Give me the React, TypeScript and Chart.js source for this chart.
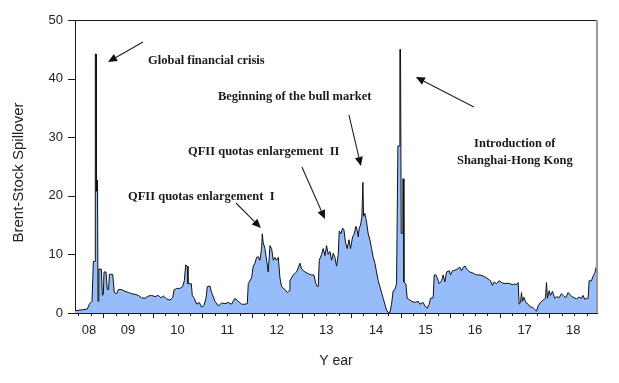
import React, { useEffect, useRef } from "react";
import { Chart, registerables } from "chart.js";

Chart.register(...registerables);

// ---- data (decimal years, spillover index) ----
const dates = [
  2008.431, 2008.532, 2008.633, 2008.680, 2008.720, 2008.774, 2008.801, 2008.835,
  2008.841, 2008.855, 2008.862, 2008.875, 2008.882, 2008.888, 2008.895, 2008.909,
  2008.915, 2008.962, 2008.983, 2009.003, 2009.016, 2009.056, 2009.083, 2009.110,
  2009.124, 2009.191, 2009.224, 2009.272, 2009.305, 2009.372, 2009.440, 2009.507,
  2009.574, 2009.641, 2009.708, 2009.776, 2009.843, 2009.910, 2009.977, 2010.044,
  2010.112, 2010.165, 2010.212, 2010.280, 2010.347, 2010.401, 2010.427, 2010.481,
  2010.548, 2010.602, 2010.636, 2010.663, 2010.696, 2010.710, 2010.777, 2010.797,
  2010.837, 2010.884, 2010.938, 2010.985, 2011.032, 2011.073, 2011.099, 2011.153,
  2011.187, 2011.254, 2011.321, 2011.388, 2011.456, 2011.523, 2011.590, 2011.657,
  2011.724, 2011.792, 2011.859, 2011.906, 2011.926, 2011.993, 2012.027, 2012.061,
  2012.094, 2012.128, 2012.161, 2012.195, 2012.208, 2012.228, 2012.262, 2012.296,
  2012.329, 2012.363, 2012.397, 2012.430, 2012.464, 2012.497, 2012.531, 2012.565,
  2012.598, 2012.665, 2012.712, 2012.753, 2012.766, 2012.833, 2012.901, 2012.968,
  2013.001, 2013.069, 2013.136, 2013.203, 2013.250, 2013.290, 2013.317, 2013.337,
  2013.358, 2013.405, 2013.438, 2013.472, 2013.505, 2013.539, 2013.573, 2013.606,
  2013.640, 2013.673, 2013.707, 2013.741, 2013.761, 2013.794, 2013.828, 2013.855,
  2013.888, 2013.922, 2013.956, 2013.989, 2014.030, 2014.063, 2014.097, 2014.124,
  2014.144, 2014.164, 2014.191, 2014.218, 2014.238, 2014.251, 2014.278, 2014.312,
  2014.345, 2014.379, 2014.413, 2014.446, 2014.480, 2014.513, 2014.547, 2014.581,
  2014.614, 2014.648, 2014.681, 2014.715, 2014.749, 2014.782, 2014.816, 2014.849,
  2014.883, 2014.917, 2014.944, 2014.977, 2014.984, 2014.997, 2015.011, 2015.038,
  2015.044, 2015.058, 2015.065, 2015.105, 2015.132, 2015.172, 2015.219, 2015.286,
  2015.354, 2015.387, 2015.454, 2015.488, 2015.535, 2015.575, 2015.602, 2015.656,
  2015.676, 2015.710, 2015.737, 2015.777, 2015.824, 2015.858, 2015.891, 2015.925,
  2015.978, 2016.005, 2016.046, 2016.093, 2016.140, 2016.194, 2016.227, 2016.261,
  2016.301, 2016.328, 2016.395, 2016.462, 2016.530, 2016.597, 2016.664, 2016.731,
  2016.765, 2016.812, 2016.852, 2016.886, 2016.933, 2016.987, 2017.034, 2017.101,
  2017.148, 2017.202, 2017.269, 2017.302, 2017.336, 2017.370, 2017.390, 2017.417,
  2017.437, 2017.457, 2017.484, 2017.524, 2017.571, 2017.618, 2017.659, 2017.706,
  2017.739, 2017.773, 2017.820, 2017.874, 2017.921, 2017.941, 2017.961, 2017.995,
  2018.022, 2018.062, 2018.109, 2018.156, 2018.196, 2018.243, 2018.277, 2018.331,
  2018.378, 2018.425, 2018.478, 2018.546, 2018.599, 2018.647, 2018.680, 2018.714,
  2018.747, 2018.781, 2018.801, 2018.848, 2018.882, 2018.915, 2018.949, 2018.960,
];

const spillover = [
  0.4, 0.5, 0.6, 0.7, 1.5, 2.0, 8.8, 8.8,
  44.2, 44.2, 20.8, 20.8, 22.7, 22.7, 2.0, 2.0,
  7.5, 7.5, 3.0, 3.2, 7.0, 7.0, 4.0, 4.0,
  6.6, 6.6, 3.5, 3.3, 4.0, 4.0, 3.7, 3.5,
  3.3, 3.2, 3.0, 2.6, 2.5, 2.9, 3.0, 2.8,
  3.0, 2.6, 2.9, 2.4, 2.2, 2.6, 3.9, 4.2,
  4.2, 4.5, 5.5, 8.2, 8.0, 5.0, 5.0, 3.0,
  2.5, 1.5, 1.8, 1.0, 1.3, 2.5, 4.5, 4.6,
  3.5, 2.0, 1.2, 1.7, 1.6, 1.8, 1.5, 2.5,
  2.0, 1.5, 1.5, 1.6, 5.0, 6.0, 8.0, 8.5,
  9.5, 9.6, 9.0, 11.0, 13.5, 12.0, 11.0, 9.0,
  7.0, 11.5, 11.0, 9.0, 9.5, 9.0, 9.5, 6.0,
  4.5, 4.0, 3.5, 3.8, 5.5, 6.5, 7.0, 8.5,
  7.5, 7.0, 6.7, 6.5, 6.5, 5.0, 4.5, 4.5,
  9.0, 10.0, 11.0, 9.8, 11.5, 10.0, 10.5, 9.0,
  10.2, 9.5, 8.0, 10.0, 14.0, 13.5, 14.5, 14.2,
  12.0, 11.0, 12.5, 11.0, 13.0, 13.5, 14.8, 14.0,
  13.0, 14.5, 15.0, 16.5, 22.3, 16.5, 17.0, 15.5,
  13.5, 12.5, 11.0, 9.5, 8.5, 7.0, 5.5, 4.5,
  3.5, 2.5, 1.5, 0.5, 0.1, 0.1, 1.5, 3.8,
  4.0, 5.0, 28.5, 28.5, 45.0, 45.0, 13.6, 13.6,
  22.9, 22.9, 5.3, 5.0, 2.5, 2.3, 2.0, 1.8,
  2.0, 1.5, 1.8, 1.2, 0.8, 1.5, 2.5, 2.6,
  6.5, 6.5, 6.0, 5.0, 5.5, 6.5, 5.3, 7.0,
  7.2, 6.5, 7.2, 7.3, 7.5, 7.8, 7.2, 7.8,
  8.0, 7.5, 7.0, 6.8, 6.5, 6.5, 6.3, 6.0,
  5.8, 5.5, 4.7, 5.3, 5.0, 5.5, 5.2, 5.0,
  5.1, 5.0, 4.8, 5.0, 4.8, 5.2, 1.5, 1.8,
  3.5, 2.0, 2.7, 1.8, 1.5, 1.0, 1.0, 0.6,
  0.3, 1.2, 1.8, 2.2, 2.5, 5.2, 2.5, 3.8,
  3.0, 3.7, 2.5, 2.8, 2.6, 3.3, 3.0, 2.6,
  3.5, 3.0, 2.7, 2.4, 2.7, 2.5, 3.0, 2.3,
  2.5, 2.5, 5.5, 5.5, 6.3, 6.8, 8.0, 8.2,
];

const labelYears = [2008, 2009, 2010, 2011, 2012, 2013, 2014, 2015, 2016, 2017, 2018];
const yTickValues = [0, 10, 20, 30, 40, 50];

const annotationTexts = [
  { text: "Global financial crisis", x: 2009.903, y: 43.0, align: "left" },
  { text: "Beginning of the bull market", x: 2011.315, y: 36.86, align: "left" },
  { text: "QFII quotas enlargement  II", x: 2010.71, y: 27.47, align: "left" },
  { text: "QFII quotas enlargement  I", x: 2009.5, y: 19.8, align: "left" },
  { text: "Introduction of", x: 2017.302, y: 28.84, align: "center" },
  { text: "Shanghai-Hong Kong", x: 2017.302, y: 25.94, align: "center" },
];

const arrows = [
  { x1: 2009.802, y1: 46.25, x2: 2009.097, y2: 42.83 },
  { x1: 2013.956, y1: 33.79, x2: 2014.198, y2: 25.09 },
  { x1: 2013.008, y1: 24.91, x2: 2013.472, y2: 16.04 },
  { x1: 2011.677, y1: 18.77, x2: 2012.181, y2: 14.51 },
  { x1: 2016.476, y1: 35.15, x2: 2015.306, y2: 40.27 },
];

const X_MIN = 2008.431;
const X_MAX = 2018.96;

const decorPlugin = {
  id: "decor",
  afterDraw(chart: any) {
    const { ctx, chartArea: a, scales } = chart;
    const xs = scales.x;
    const ys = scales.y;
    ctx.save();

    // frame top & right
    ctx.strokeStyle = "#1a1a1a";
    ctx.lineWidth = 1;
    ctx.beginPath();
    ctx.moveTo(a.left, Math.round(a.top) + 0.5);
    ctx.lineTo(a.right, Math.round(a.top) + 0.5);
    ctx.stroke();
    ctx.strokeStyle = "#9a9a9a";
    ctx.lineWidth = 2;
    ctx.beginPath();
    ctx.moveTo(a.right, a.top);
    ctx.lineTo(a.right, a.bottom);
    ctx.stroke();

    // y tick marks
    ctx.strokeStyle = "#1a1a1a";
    ctx.lineWidth = 1;
    yTickValues.forEach((v) => {
      const y = Math.round(ys.getPixelForValue(v)) + 0.5;
      ctx.beginPath();
      ctx.moveTo(a.left - 7, y);
      ctx.lineTo(a.left, y);
      ctx.stroke();
    });

    // x tick marks: quarterly, long at year boundaries
    for (let k = 0; k <= 48; k++) {
      const v = 2008 + k / 4;
      if (v < X_MIN || v > X_MAX) continue;
      const x = Math.round(xs.getPixelForValue(v)) + 0.5;
      const len = k % 4 === 0 ? 5 : 3;
      ctx.beginPath();
      ctx.moveTo(x, a.bottom);
      ctx.lineTo(x, a.bottom + len);
      ctx.stroke();
    }

    // axis titles
    ctx.fillStyle = "#222";
    ctx.font = '15px "Liberation Sans", Arial, sans-serif';
    ctx.textAlign = "center";
    ctx.textBaseline = "middle";
    ctx.save();
    ctx.translate(19, (a.top + a.bottom) / 2 + 6);
    ctx.rotate(-Math.PI / 2);
    ctx.fillText("Brent-Stock Spillover", 0, 0);
    ctx.restore();
    ctx.font = '14px "Liberation Sans", Arial, sans-serif';
    ctx.fillText("Y ear", (a.left + a.right) / 2, 361);

    // annotation texts
    ctx.fillStyle = "#1a1a1a";
    ctx.font = 'bold 12.5px "Liberation Serif", "Times New Roman", serif';
    annotationTexts.forEach((t) => {
      ctx.textAlign = t.align as CanvasTextAlign;
      ctx.fillText(t.text, xs.getPixelForValue(t.x), ys.getPixelForValue(t.y));
    });

    // arrows
    ctx.strokeStyle = "#222";
    ctx.fillStyle = "#111";
    ctx.lineWidth = 1.1;
    arrows.forEach((ar) => {
      const x1 = xs.getPixelForValue(ar.x1);
      const y1 = ys.getPixelForValue(ar.y1);
      const x2 = xs.getPixelForValue(ar.x2);
      const y2 = ys.getPixelForValue(ar.y2);
      const ang = Math.atan2(y2 - y1, x2 - x1);
      const hl = 9;
      const hw = 4;
      const bx = x2 - hl * Math.cos(ang);
      const by = y2 - hl * Math.sin(ang);
      ctx.beginPath();
      ctx.moveTo(x1, y1);
      ctx.lineTo(bx, by);
      ctx.stroke();
      ctx.beginPath();
      ctx.moveTo(x2, y2);
      ctx.lineTo(bx + hw * Math.sin(ang), by - hw * Math.cos(ang));
      ctx.lineTo(bx - hw * Math.sin(ang), by + hw * Math.cos(ang));
      ctx.closePath();
      ctx.fill();
    });

    ctx.restore();
  },
};

export default function App() {
  const canvasRef = useRef<HTMLCanvasElement | null>(null);

  useEffect(() => {
    if (!canvasRef.current) return;
    const labelPositions = labelYears.map((yr) => {
      const lo = Math.max(yr, X_MIN);
      const hi = Math.min(yr + 1, X_MAX);
      return (lo + hi) / 2;
    });
    const chart = new Chart(canvasRef.current, {
      type: "line",
      data: {
        datasets: [
          {
            data: dates.map((d, i) => ({ x: d, y: spillover[i] })),
            fill: "origin",
            backgroundColor: "rgb(150,189,250)",
            borderColor: "#111",
            borderWidth: 1,
            pointRadius: 0,
            tension: 0,
          },
        ],
      },
      options: {
        responsive: false,
        animation: false,
        devicePixelRatio: 1,
        layout: { padding: { left: 0, right: 22, top: 20, bottom: 0 } },
        plugins: { legend: { display: false }, tooltip: { enabled: false } },
        scales: {
          x: {
            type: "linear",
            min: X_MIN,
            max: X_MAX,
            afterBuildTicks: (scale: any) => {
              scale.ticks = labelPositions.map((v) => ({ value: v }));
            },
            afterFit: (scale: any) => {
              scale.height = 70;
            },
            grid: { display: false, drawTicks: false },
            border: { display: true, color: "#1a1a1a", width: 1 },
            ticks: {
              autoSkip: false,
              maxRotation: 0,
              padding: 10,
              color: "#222",
              font: { family: '"Liberation Sans", Arial, sans-serif', size: 13 },
              callback: (value: any) => {
                const idx = labelPositions.findIndex((p) => Math.abs(p - value) < 1e-6);
                return idx >= 0 ? String(labelYears[idx]).slice(2) : "";
              },
            },
          },
          y: {
            type: "linear",
            min: 0,
            max: 50,
            afterBuildTicks: (scale: any) => {
              scale.ticks = yTickValues.map((v) => ({ value: v }));
            },
            afterFit: (scale: any) => {
              scale.width = 75;
            },
            grid: { display: false, drawTicks: false },
            border: { display: true, color: "#1a1a1a", width: 1 },
            ticks: {
              padding: 12,
              color: "#222",
              font: { family: '"Liberation Sans", Arial, sans-serif', size: 13 },
            },
          },
        },
      },
      plugins: [decorPlugin],
    });
    return () => chart.destroy();
  }, []);

  return (
    <div style={{ position: "absolute", left: 0, top: 0, width: 619, height: 383, background: "#fff" }}>
      <canvas ref={canvasRef} width={619} height={383} style={{ width: 619, height: 383 }} />
    </div>
  );
}
